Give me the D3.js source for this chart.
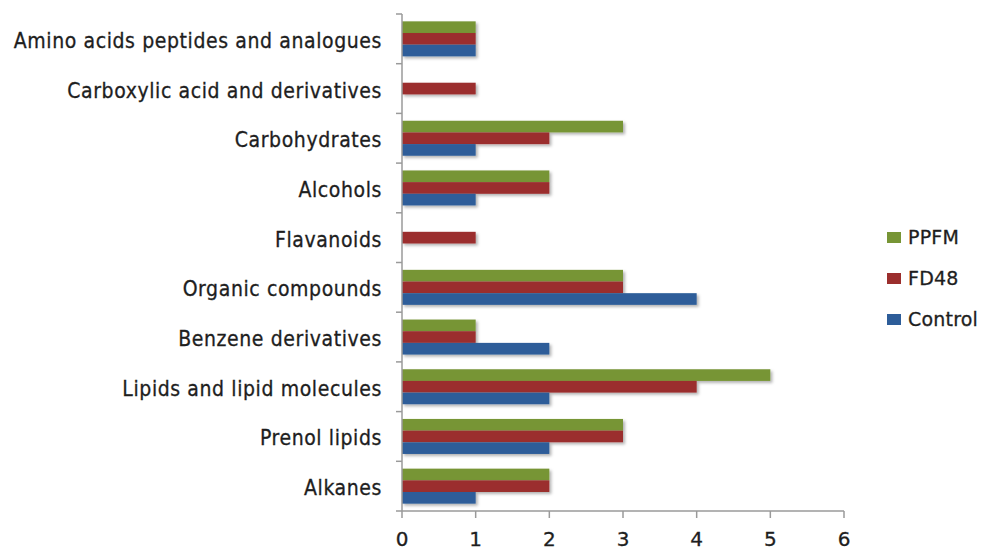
<!DOCTYPE html>
<html>
<head>
<meta charset="utf-8">
<script src="https://cdn.jsdelivr.net/npm/d3@7"></script>
<style>
  body { margin: 0; background: #fff; }
  svg text { font-family: "DejaVu Sans", sans-serif; fill: #1e1e1e; stroke: #1e1e1e; stroke-width: 0.3px; }
  svg text.cat { font-family: "DejaVu Sans Condensed", "DejaVu Sans", sans-serif; }
</style>
</head>
<body>
<div id="chart"></div>
<script>
const width = 984;
const height = 549;

// categories top to bottom
const categories = [
  "Amino acids peptides and analogues",
  "Carboxylic acid and derivatives",
  "Carbohydrates",
  "Alcohols",
  "Flavanoids",
  "Organic compounds",
  "Benzene derivatives",
  "Lipids and lipid molecules",
  "Prenol lipids",
  "Alkanes"
];
const seriesNames = ["PPFM", "FD48", "Control"];
const ppfm    = [1, 0, 3, 2, 0, 3, 1, 5, 3, 2];
const fd48    = [1, 1, 2, 2, 1, 3, 1, 4, 3, 2];
const control = [1, 0, 1, 1, 0, 4, 2, 2, 2, 1];
const xTicks = [0, 1, 2, 3, 4, 5, 6];
const colors = ["#779535", "#9b2e2d", "#2d5d99"];

const series = [ppfm, fd48, control];

const svg = d3.select("#chart").append("svg")
    .attr("width", width)
    .attr("height", height);

const defs = svg.append("defs");
const shadow = defs.append("filter").attr("id", "shadow")
    .attr("x", "-5%").attr("y", "-30%").attr("width", "115%").attr("height", "190%");
shadow.append("feDropShadow")
    .attr("dx", 2).attr("dy", 2).attr("stdDeviation", 1.6)
    .attr("flood-color", "#000").attr("flood-opacity", 0.3);

const x = d3.scaleLinear().domain([0, 6]).range([402, 844]);
const y = d3.scaleBand().domain(categories).range([14, 511]);
const inner = d3.scaleBand().domain(seriesNames)
    .range([0, y.bandwidth()]).paddingOuter(0.63);

// bars
const g = svg.append("g");
categories.forEach((cat, i) => {
  seriesNames.forEach((s, j) => {
    const v = series[j][i];
    if (v <= 0) return;
    g.append("rect")
      .attr("x", x(0))
      .attr("y", y(cat) + inner(s))
      .attr("width", x(v) - x(0))
      .attr("height", inner.bandwidth())
      .attr("fill", colors[j])
      .attr("filter", "url(#shadow)");
  });
});

// y axis
const axisColor = "#9a9a9a";
svg.append("line")
  .attr("x1", x(0)).attr("x2", x(0))
  .attr("y1", 14).attr("y2", 511)
  .attr("stroke", axisColor).attr("stroke-width", 1.5);
d3.range(categories.length + 1).forEach(i => {
  const yy = 14 + i * y.step();
  svg.append("line")
    .attr("x1", x(0) - 6).attr("x2", x(0))
    .attr("y1", yy).attr("y2", yy)
    .attr("stroke", axisColor).attr("stroke-width", 1.5);
});
categories.forEach(c => {
  svg.append("text")
    .attr("class", "cat")
    .attr("x", 382)
    .attr("y", y(c) + y.bandwidth() / 2 + 9)
    .attr("text-anchor", "end")
    .attr("font-size", "21px")
    .attr("letter-spacing", "0.6px")
    .text(c);
});

// x axis
svg.append("line")
  .attr("x1", x(0)).attr("x2", x(6))
  .attr("y1", 511).attr("y2", 511)
  .attr("stroke", axisColor).attr("stroke-width", 1.5);
xTicks.forEach(t => {
  svg.append("line")
    .attr("x1", x(t)).attr("x2", x(t))
    .attr("y1", 511).attr("y2", 518)
    .attr("stroke", axisColor).attr("stroke-width", 1.5);
  svg.append("text")
    .attr("x", x(t))
    .attr("y", 546)
    .attr("text-anchor", "middle")
    .attr("font-size", "20px")
    .text(t);
});

// legend
seriesNames.forEach((s, j) => {
  const ly = 232 + j * 41;
  svg.append("rect")
    .attr("x", 887).attr("y", ly)
    .attr("width", 14).attr("height", 11)
    .attr("fill", colors[j]);
  svg.append("text")
    .attr("x", 908).attr("y", ly + 12)
    .attr("font-size", "19px")
    .attr("letter-spacing", "0.2px")
    .text(s);
});
</script>
</body>
</html>
